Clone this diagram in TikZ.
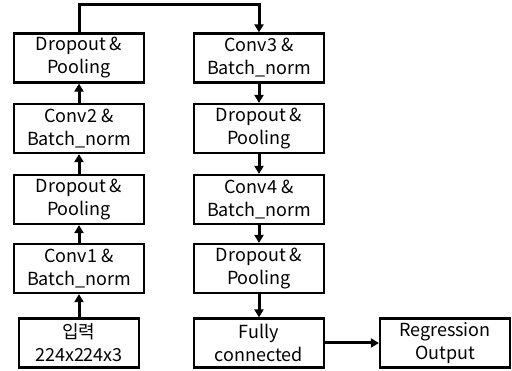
\documentclass[tikz,border=0pt]{standalone}
\usepackage{fontspec}
\setmainfont{Noto Sans CJK KR}
\usetikzlibrary{arrows.meta}

\begin{document}
\begin{tikzpicture}[x=1pt, y=-1pt,
    blk/.style={draw, line width=2.2pt, minimum width=130pt, minimum height=49pt,
        inner sep=0pt, align=center, font=\fontsize{18}{23}\selectfont},
    conn/.style={line width=3pt, -{Triangle[length=8pt, width=9pt]}}]
    \useasboundingbox (0,0) rectangle (512,371);
    % left column, bottom to top
    \node[blk, minimum width=120pt] (input) at (79,343) {입력\\224x224x3};
    \node[blk] (conv1) at (79,268.5) {Conv1 \&\\Batch\_norm};
    \node[blk] (drop1) at (79,199.5) {Dropout \&\\Pooling};
    \node[blk] (conv2) at (79,128.5) {Conv2 \&\\Batch\_norm};
    \node[blk] (drop2) at (79,58) {Dropout \&\\Pooling};
    % right column, top to bottom
    \node[blk] (conv3) at (259,58) {Conv3 \&\\Batch\_norm};
    \node[blk] (drop3) at (259,128.5) {Dropout \&\\Pooling};
    \node[blk] (conv4) at (259,199.5) {Conv4 \&\\Batch\_norm};
    \node[blk] (drop4) at (259,268.5) {Dropout \&\\Pooling};
    \node[blk] (fc) at (259,343) {Fully\\connected};
    \node[blk] (out) at (445,343) {Regression\\Output};

    \draw[conn] (input) -- (conv1);
    \draw[conn] (conv1) -- (drop1);
    \draw[conn] (drop1) -- (conv2);
    \draw[conn] (conv2) -- (drop2);
    \draw[conn] (drop2.north) -- (drop2.north |- 0,5) -| (conv3.north);
    \draw[conn] (conv3) -- (drop3);
    \draw[conn] (drop3) -- (conv4);
    \draw[conn] (conv4) -- (drop4);
    \draw[conn] (drop4) -- (fc);
    \draw[conn] (fc) -- (out);
\end{tikzpicture}
\end{document}
